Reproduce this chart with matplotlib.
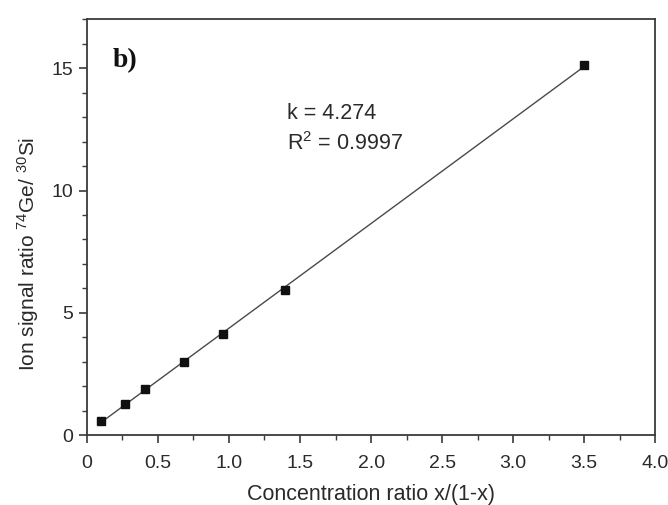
import numpy as np
import matplotlib
matplotlib.use("Agg")
import matplotlib.pyplot as plt
from matplotlib.ticker import MultipleLocator

plt.rcParams['font.family'] = ['Liberation Sans', 'DejaVu Sans']
plt.rcParams['mathtext.default'] = 'regular'

# data
conc_ratio = [0.099, 0.272, 0.411, 0.685, 0.955, 1.394, 3.50]
ion_ratio = [0.58, 1.29, 1.91, 3.01, 4.14, 5.92, 15.13]
slope_label = "k = 4.274"
r2_label = "R$^2$ = 0.9997"
panel_label = "b)"
x_ticks = [0, 0.5, 1.0, 1.5, 2.0, 2.5, 3.0, 3.5, 4.0]
x_tick_labels = ["0", "0.5", "1.0", "1.5", "2.0", "2.5", "3.0", "3.5", "4.0"]
y_ticks = [0, 5, 10, 15]

fig = plt.figure(figsize=(6.68, 5.05), dpi=100)
ax = fig.add_axes([0.130, 0.138, 0.851, 0.824])

x = np.array(conc_ratio)
y = np.array(ion_ratio)
coef = np.polyfit(x, y, 1)
xl = np.array([x.min(), x.max()])
ax.plot(xl, np.polyval(coef, xl), color='#4a4a4a', lw=1.0, zorder=2)
ax.plot(x, y, linestyle='none', marker='s', ms=6.0, color='#111111', zorder=3)

ax.set_xlim(0, 4.0)
ax.set_ylim(0, 17)
ax.set_xticks(x_ticks)
ax.set_xticklabels(x_tick_labels)
ax.set_yticks(y_ticks)
ax.xaxis.set_minor_locator(MultipleLocator(0.25))
ax.yaxis.set_minor_locator(MultipleLocator(1))
ax.tick_params(which='both', direction='out', top=False, right=False,
               color='#3a3a3a', labelsize=14, labelcolor='#2a2a2a')
ax.tick_params(which='major', length=6, width=1.2)
ax.tick_params(which='minor', length=3.5, width=1.0)
ax.tick_params(axis='x', which='major', pad=8)
ax.tick_params(axis='y', which='major', pad=4)
for s in ax.spines.values():
    s.set_color('#3a3a3a')
    s.set_linewidth(1.3)

ax.set_xlabel("Concentration ratio x/(1-x)", fontsize=15.5, color='#2a2a2a', labelpad=9)
ax.set_ylabel("Ion signal ratio $^{74}$Ge/ $^{30}$Si", fontsize=15, color='#2a2a2a')
ax.yaxis.set_label_coords(-0.080, 0.435)

ax.text(0.18, 15.3, panel_label, fontsize=20, fontweight='bold',
        family=['Liberation Serif', 'DejaVu Serif'], va='center', ha='left', color='#111111')
ax.text(1.41, 13.15, slope_label, fontsize=15.5, va='center', ha='left', color='#2a2a2a')
ax.text(1.41, 11.9, r2_label, fontsize=15.5, va='center', ha='left', color='#2a2a2a')

fig.savefig("out.png", dpi=100)
